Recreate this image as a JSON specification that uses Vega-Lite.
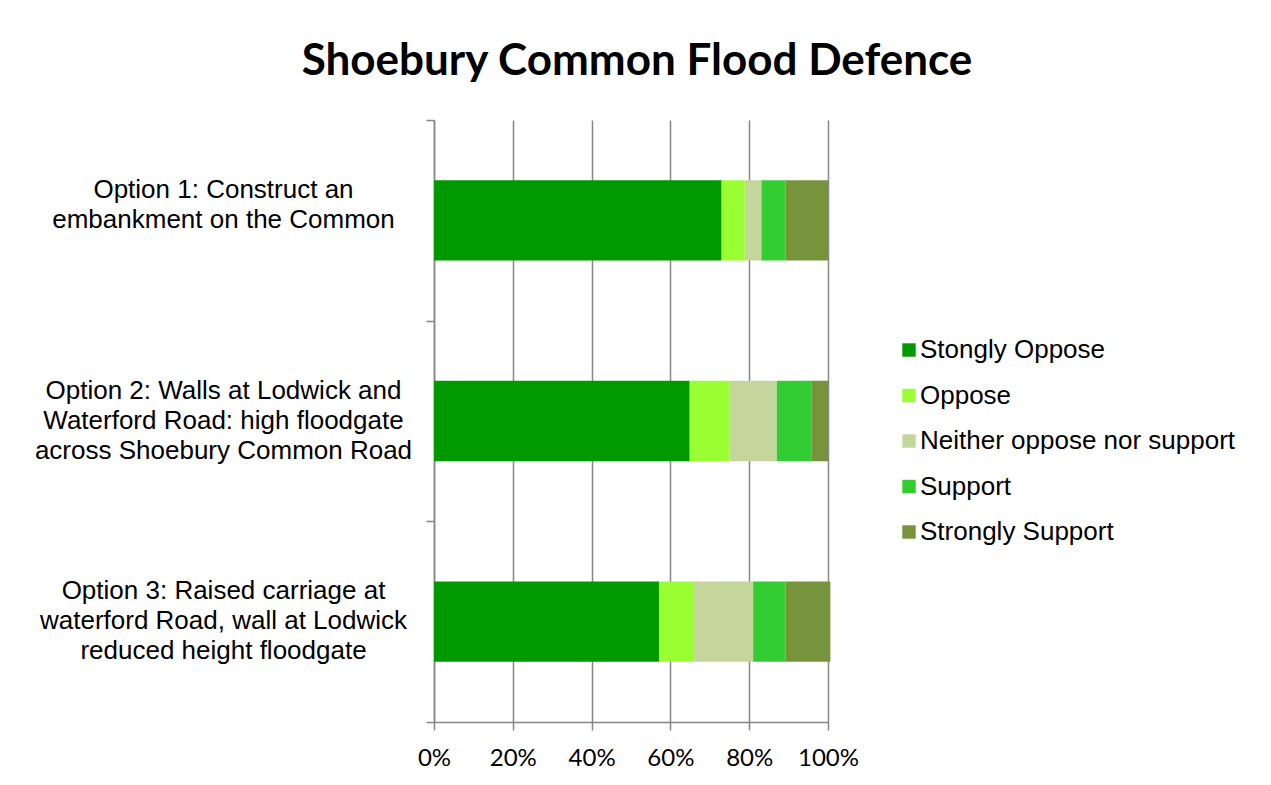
{
  "$schema": "https://vega.github.io/schema/vega-lite/v6.json",
  "width": 394,
  "height": 602,
  "autosize": {"type": "none"},
  "padding": {"left": 434, "top": 120, "right": 443, "bottom": 63},
  "background": "white",
  "title": {
    "text": "Shoebury Common Flood Defence",
    "font": "Lato",
    "fontSize": 44,
    "fontWeight": "bold",
    "color": "black",
    "anchor": "middle",
    "baseline": "alphabetic",
    "offset": 45,
    "dx": 6,
    "dy": 57
  },
  "data": {
    "values": [
      {"option": "Option 1: Construct an|embankment on the Common", "response": "Stongly Oppose", "rank": 1, "value": 0.730},
      {"option": "Option 1: Construct an|embankment on the Common", "response": "Oppose", "rank": 2, "value": 0.059},
      {"option": "Option 1: Construct an|embankment on the Common", "response": "Neither oppose nor support", "rank": 3, "value": 0.042},
      {"option": "Option 1: Construct an|embankment on the Common", "response": "Support", "rank": 4, "value": 0.061},
      {"option": "Option 1: Construct an|embankment on the Common", "response": "Strongly Support", "rank": 5, "value": 0.108},
      {"option": "Option 2: Walls at Lodwick and|Waterford Road: high floodgate|across Shoebury Common Road", "response": "Stongly Oppose", "rank": 1, "value": 0.649},
      {"option": "Option 2: Walls at Lodwick and|Waterford Road: high floodgate|across Shoebury Common Road", "response": "Oppose", "rank": 2, "value": 0.101},
      {"option": "Option 2: Walls at Lodwick and|Waterford Road: high floodgate|across Shoebury Common Road", "response": "Neither oppose nor support", "rank": 3, "value": 0.120},
      {"option": "Option 2: Walls at Lodwick and|Waterford Road: high floodgate|across Shoebury Common Road", "response": "Support", "rank": 4, "value": 0.089},
      {"option": "Option 2: Walls at Lodwick and|Waterford Road: high floodgate|across Shoebury Common Road", "response": "Strongly Support", "rank": 5, "value": 0.041},
      {"option": "Option 3: Raised carriage at|waterford Road, wall at Lodwick|reduced height floodgate", "response": "Stongly Oppose", "rank": 1, "value": 0.571},
      {"option": "Option 3: Raised carriage at|waterford Road, wall at Lodwick|reduced height floodgate", "response": "Oppose", "rank": 2, "value": 0.089},
      {"option": "Option 3: Raised carriage at|waterford Road, wall at Lodwick|reduced height floodgate", "response": "Neither oppose nor support", "rank": 3, "value": 0.150},
      {"option": "Option 3: Raised carriage at|waterford Road, wall at Lodwick|reduced height floodgate", "response": "Support", "rank": 4, "value": 0.082},
      {"option": "Option 3: Raised carriage at|waterford Road, wall at Lodwick|reduced height floodgate", "response": "Strongly Support", "rank": 5, "value": 0.114}
    ]
  },
  "mark": {"type": "bar", "height": {"band": 0.4}},
  "encoding": {
    "y": {
      "field": "option",
      "type": "nominal",
      "sort": null,
      "scale": {"paddingInner": 0, "paddingOuter": 0},
      "axis": {
        "title": null,
        "labelExpr": "split(datum.label, '|')",
        "labelFont": "Liberation Sans",
        "labelFontSize": 26,
        "labelColor": "black",
        "labelLineHeight": 30,
        "labelAlign": "center",
        "labelBaseline": "middle",
        "labelLimit": 600,
        "labelPadding": 203,
        "labelOffset": -31,
        "tickBand": "extent",
        "tickSize": 8,
        "tickColor": "#868686",
        "domainColor": "#868686",
        "domainWidth": 1.5,
        "tickWidth": 1.5,
        "grid": false
      }
    },
    "x": {
      "field": "value",
      "type": "quantitative",
      "stack": "zero",
      "scale": {"domain": [0, 1], "nice": false},
      "axis": {
        "title": null,
        "format": ".0%",
        "values": [0, 0.2, 0.4, 0.6, 0.8, 1],
        "labelFont": "Lato",
        "labelFontSize": 24,
        "labelColor": "black",
        "labelPadding": 16,
        "tickSize": 8,
        "tickColor": "#868686",
        "tickWidth": 1.5,
        "domainColor": "#868686",
        "domainWidth": 1.5,
        "grid": true,
        "gridColor": "#868686",
        "gridWidth": 1.5,
        "labelFlush": false
      }
    },
    "color": {
      "field": "response",
      "type": "nominal",
      "scale": {
        "domain": ["Stongly Oppose", "Oppose", "Neither oppose nor support", "Support", "Strongly Support"],
        "range": ["#009900", "#99FF33", "#C4D69B", "#33CC33", "#77933C"]
      },
      "legend": {
        "title": null,
        "orient": "none",
        "legendX": 462,
        "legendY": 217,
        "symbolType": "square",
        "symbolSize": 180,
        "symbolStrokeWidth": 0,
        "symbolOpacity": 1,
        "labelFont": "Liberation Sans",
        "labelFontSize": 26,
        "labelColor": "black",
        "labelOffset": -2,
        "rowPadding": 19.5,
        "labelLimit": 600
      }
    },
    "order": {"field": "rank", "type": "quantitative"}
  },
  "config": {
    "view": {"stroke": null}
  }
}
